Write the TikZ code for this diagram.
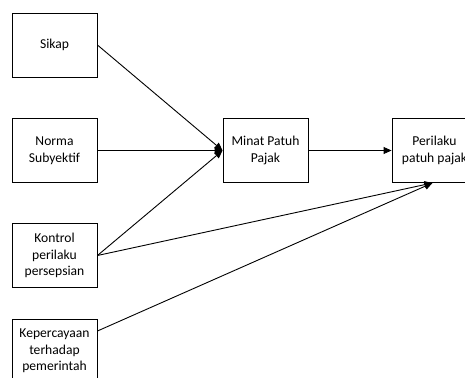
\documentclass[tikz,border=0pt]{standalone}
\usepackage{fontspec}
\setmainfont{Carlito}
\usetikzlibrary{arrows.meta}
\begin{document}
\begin{tikzpicture}[x=1pt,y=-1pt,
  box/.style={draw,line width=0.9pt,minimum width=85pt,minimum height=64pt,inner sep=0pt,align=center,font=\fontsize{13.6}{16.6}\selectfont},
  arr/.style={line width=0.9pt,-{Triangle[length=8pt,width=7pt]}}]
\useasboundingbox (0,0) rectangle (465,377);
\clip (0,0) rectangle (465,377);
\node[box] (sik) at (54.5,45) {Sikap};
\node[box] (nor) at (54.5,150.5) {Norma\\Subyektif};
\node[box] (kon) at (54.5,255.5) {Kontrol\\perilaku\\persepsian};
\node[box] (kep) at (54.5,351) {Kepercayaan\\terhadap\\pemerintah};
\node[box] (min) at (265.5,150.5) {Minat Patuh\\Pajak};
\node[box] (per) at (434.5,150.5) {Perilaku\\patuh pajak};
\draw[arr] (sik.east) -- (min.west);
\draw[arr] (nor.east) -- (min.west);
\draw[arr] (kon.east) -- (min.west);
\draw[arr] (min.east) -- (per.west);
\draw[arr] (kon.east) -- ([xshift=-2pt]per.south);
\draw[arr] ([yshift=20pt]kep.east) -- ([xshift=-2pt]per.south);
\end{tikzpicture}
\end{document}
